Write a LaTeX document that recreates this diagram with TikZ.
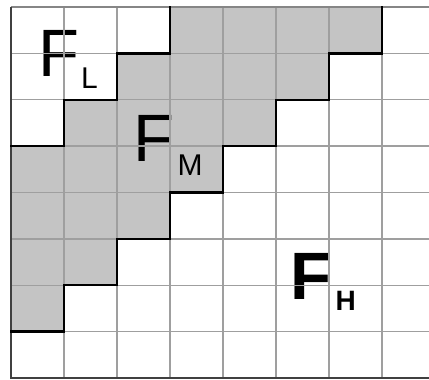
\documentclass[tikz,border=0pt]{standalone}
\usepackage{fontspec}
\setmainfont{Liberation Sans}
\definecolor{cellgray}{RGB}{196,196,196}
\tikzset{
  gridline/.style = {draw=gray!75, line width=1.3pt},
  frame/.style    = {draw=black!75, line width=2.4pt},
  topline/.style  = {draw=gray!95, line width=1.8pt},
  stair/.style    = {draw=black, line width=2.4pt, line join=miter, line cap=rect},
  bigF/.style     = {inner sep=0pt, anchor=base west,
                     font=\fontsize{67}{67}\selectfont},
  subF/.style     = {inner sep=0pt, anchor=base west,
                     font=\fontsize{30}{30}\selectfont}
}

\begin{document}
\begin{tikzpicture}[x=53pt, y=-46.375pt]

%% Page size (grid starts 11/7 px from the corner, cut off at the right)
\useasboundingbox (-0.2075,-0.151) rectangle (7.887,8.043);
\fill[white] (-0.2075,-0.151) rectangle (7.887,8.043);

%% Shaded band (rows top to bottom)
\foreach \r in {0,...,6}{
  \pgfmathtruncatemacro{\cmin}{max(0,3-\r)}
  \fill[cellgray] (\cmin,\r) rectangle (7-\r,\r+1);
}

%% Labels
\node[bigF] (fl)  at (0.52,1.509) {F};
\node[subF] (fls) at (1.32,1.747) {L};
\node[bigF] (fm)  at (2.31,3.342) {F};
\node[subF] (fms) at (3.14,3.623) {M};
\node[bigF, font=\fontsize{67}{67}\selectfont\bfseries] (fh)  at (5.27,6.318) {F};
\node[subF, font=\fontsize{28}{28}\selectfont\bfseries] (fhs) at (6.12,6.534) {H};

%% Grid
\foreach \c in {1,...,7}
  \draw[gridline] (\c,0) -- (\c,8);
\foreach \r in {1,...,7}
  \draw[gridline] (0,\r) -- (7.887,\r);

%% Outer lines
\draw[topline] (0,0) -- (7.887,0);
\draw[frame] (0,0) -- (0,8) -- (7.887,8);

%% Staircases
\draw[stair] (3,0) -- (3,1) -- (2,1) -- (2,2) -- (1,2) -- (1,3) -- (0,3);
\draw[stair] (7,0) -- (7,1) -- (6,1) -- (6,2) -- (5,2) -- (5,3) -- (4,3)
  -- (4,4) -- (3,4) -- (3,5) -- (2,5) -- (2,6) -- (1,6) -- (1,7) -- (0,7);

\end{tikzpicture}
\end{document}
